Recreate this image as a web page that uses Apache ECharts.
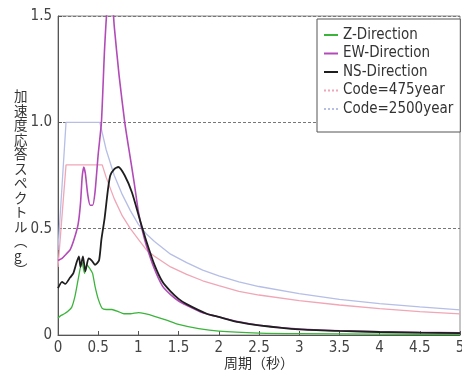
<!DOCTYPE html>
<html>
<head>
<meta charset="utf-8">
<script src="https://cdn.jsdelivr.net/npm/echarts@6/dist/echarts.min.js"></script>
<style>html,body{margin:0;padding:0;background:#fff;}#c{width:462px;height:371px;}</style>
</head>
<body>
<div id="c"></div>
<script>
var seriesNames = ['Z-Direction', 'EW-Direction', 'NS-Direction', 'Code=475year', 'Code=2500year'];
var xTicks = ['0', '0.5', '1', '1.5', '2', '2.5', '3', '3.5', '4', '4.5', '5'];
var yTicks = ['0', '0.5', '1.0', '1.5'];
var yAxisTitle = '加速度応答スペクトル︵g︶';
var xAxisTitle = '周期（秒）';

var zDir = [[0,0.08],[0.03,0.09],[0.08,0.10],[0.12,0.11],[0.17,0.13],[0.21,0.18],[0.25,0.26],[0.28,0.32],[0.30,0.34],[0.33,0.29],[0.36,0.33],[0.40,0.31],[0.43,0.29],[0.46,0.23],[0.50,0.17],[0.55,0.125],[0.60,0.12],[0.67,0.12],[0.75,0.11],[0.82,0.10],[0.90,0.10],[1.0,0.105],[1.08,0.10],[1.2,0.088],[1.35,0.07],[1.5,0.05],[1.75,0.03],[2.0,0.018],[2.5,0.009],[3.0,0.006],[4.0,0.004],[5.0,0.003]];
var ewDir = [[0,0.35],[0.05,0.36],[0.10,0.38],[0.15,0.40],[0.20,0.45],[0.25,0.52],[0.28,0.62],[0.30,0.74],[0.32,0.79],[0.34,0.76],[0.37,0.66],[0.40,0.61],[0.43,0.61],[0.46,0.67],[0.50,0.85],[0.54,1.00],[0.58,1.35],[0.62,1.58],[0.66,1.63],[0.70,1.45],[0.76,1.22],[0.83,1.00],[0.90,0.83],[0.95,0.71],[1.0,0.58],[1.05,0.49],[1.1,0.42],[1.2,0.31],[1.3,0.23],[1.4,0.19],[1.5,0.16],[1.6,0.14],[1.8,0.105],[2.0,0.085],[2.25,0.062],[2.5,0.046],[3.0,0.028],[3.5,0.02],[4.0,0.015],[4.5,0.012],[5.0,0.01]];
var nsDir = [[0,0.22],[0.05,0.25],[0.09,0.24],[0.15,0.27],[0.19,0.29],[0.23,0.34],[0.26,0.37],[0.28,0.32],[0.31,0.37],[0.34,0.30],[0.38,0.36],[0.42,0.35],[0.46,0.33],[0.51,0.35],[0.54,0.45],[0.58,0.55],[0.62,0.68],[0.65,0.75],[0.70,0.78],[0.75,0.79],[0.83,0.75],[0.92,0.67],[1.02,0.54],[1.1,0.44],[1.2,0.33],[1.3,0.25],[1.4,0.205],[1.5,0.17],[1.6,0.145],[1.85,0.10],[2.0,0.085],[2.25,0.06],[2.5,0.045],[3.0,0.026],[3.5,0.019],[4.0,0.014],[4.5,0.011],[5.0,0.009]];
var code475 = [[0,0.32],[0.10,0.80],[0.55,0.80],[0.60,0.74],[0.70,0.64],[0.80,0.56],[0.90,0.50],[1.0,0.45],[1.1,0.40],[1.2,0.37],[1.4,0.32],[1.6,0.285],[1.8,0.255],[2.0,0.232],[2.25,0.205],[2.5,0.188],[3.0,0.162],[3.5,0.141],[4.0,0.124],[4.5,0.11],[5.0,0.099]];
var code2500 = [[0,0.40],[0.10,1.00],[0.52,1.00],[0.60,0.87],[0.70,0.75],[0.80,0.66],[0.90,0.585],[1.0,0.52],[1.1,0.475],[1.2,0.44],[1.4,0.38],[1.6,0.34],[1.8,0.305],[2.0,0.278],[2.25,0.25],[2.5,0.228],[3.0,0.195],[3.5,0.168],[4.0,0.148],[4.5,0.132],[5.0,0.118]];

var font = '"Liberation Sans Narrow", "DejaVu Sans Condensed", "Liberation Sans", sans-serif';
var chart = echarts.init(document.getElementById('c'), null, {renderer: 'canvas'});
chart.setOption({
  animation: false,
  backgroundColor: '#fff',
  grid: {left: 58, right: 2, top: 16, bottom: 36, show: true, borderColor: '#8a8a8a', borderWidth: 1, backgroundColor: 'transparent', outerBoundsMode: 'none', containLabel: false},
  legend: {
    orient: 'vertical', left: 317, top: 19,
    backgroundColor: '#fff', borderColor: '#555', borderWidth: 1,
    padding: [8, 7, 15, 6], itemGap: 2.5, itemWidth: 14, itemHeight: 10,
    itemStyle: {opacity: 0, color: 'transparent', borderWidth: 0},
    textStyle: {fontFamily: font, fontSize: 15, color: '#333', lineHeight: 16},
    data: [
      {name: seriesNames[0]}, {name: seriesNames[1]}, {name: seriesNames[2]},
      {name: seriesNames[3], lineStyle: {type: 'dotted'}},
      {name: seriesNames[4], lineStyle: {type: 'dotted'}}
    ]
  },
  xAxis: {
    type: 'value', min: 0, max: 5, interval: 0.5,
    name: xAxisTitle, nameLocation: 'middle', nameGap: 21, nameMoveOverlap: false,
    nameTextStyle: {fontFamily: '"Noto Sans CJK JP", sans-serif', fontSize: 14, color: '#333'},
    axisLine: {show: true, lineStyle: {color: '#555', width: 1}},
    axisTick: {show: true, inside: true, length: 4, lineStyle: {color: '#555'}},
    axisLabel: {fontFamily: font, fontSize: 15, color: '#444', margin: 6,
      formatter: function (v) { var i = Math.round(v / 0.5); return xTicks[i] !== undefined ? xTicks[i] : ''; }},
    splitLine: {show: false}
  },
  yAxis: {
    type: 'value', min: 0, max: 1.5, interval: 0.5,
    axisLine: {show: true, lineStyle: {color: '#555', width: 1}},
    axisTick: {show: true, inside: true, length: 4, lineStyle: {color: '#555'}},
    axisLabel: {fontFamily: font, fontSize: 15, color: '#444', margin: 6,
      formatter: function (v) { var i = Math.round(v / 0.5); return yTicks[i] !== undefined ? yTicks[i] : ''; }},
    splitLine: {show: true, lineStyle: {color: '#777', type: [3, 2], width: 1}}
  },
  graphic: [{
    type: 'text', left: 14, top: 89,
    style: {text: yAxisTitle.split('').join('\n'), fontFamily: '"Noto Sans CJK JP", sans-serif', fontSize: 13.5, lineHeight: 14.5, fill: '#333', align: 'center'}
  }],
  series: [
    {name: seriesNames[3], type: 'line', data: code475, symbol: 'none', lineStyle: {color: '#f0a6b6', width: 1.3}, itemStyle: {color: '#f0a6b6'}, z: 1},
    {name: seriesNames[4], type: 'line', data: code2500, symbol: 'none', lineStyle: {color: '#b6bee6', width: 1.3}, itemStyle: {color: '#b6bee6'}, z: 1},
    {name: seriesNames[0], type: 'line', data: zDir, symbol: 'none', smooth: 0.2, lineStyle: {color: '#3cb43c', width: 1.3}, itemStyle: {color: '#3cb43c'}, z: 3},
    {name: seriesNames[1], type: 'line', data: ewDir, symbol: 'none', smooth: 0.2, lineStyle: {color: '#b24ab8', width: 1.6}, itemStyle: {color: '#b24ab8'}, z: 2},
    {name: seriesNames[2], type: 'line', data: nsDir, symbol: 'none', smooth: 0.2, lineStyle: {color: '#1e1e1e', width: 1.8}, itemStyle: {color: '#1e1e1e'}, z: 4}
  ]
});
</script>
</body>
</html>
